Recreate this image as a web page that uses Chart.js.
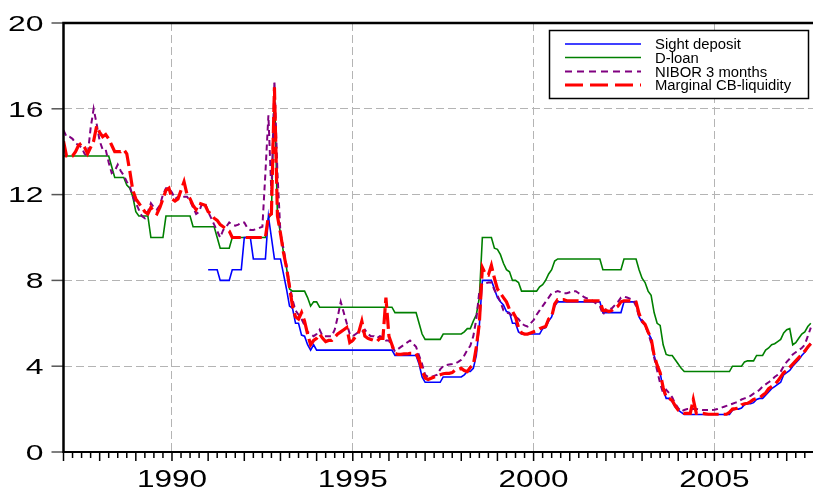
<!DOCTYPE html>
<html>
<head>
<meta charset="utf-8">
<script src="https://cdn.jsdelivr.net/npm/chart.js@4.4.1/dist/chart.umd.min.js"></script>
<style>
  html, body { margin: 0; padding: 0; background: #fff; }
  #c { display: block; }
</style>
</head>
<body>
<canvas id="c" width="813" height="488"></canvas>
<script>
// Norwegian money-market and central bank rates, monthly from January 1987 (percent)
const START_YEAR = 1987;
const seriesNames = ['Sight deposit', 'D-loan', 'NIBOR 3 months', 'Marginal CB-liquidity'];
const yTicks = [0, 4, 8, 12, 16, 20];
const xTicks = [1990, 1995, 2000, 2005];

const sightDeposit = [
  null,null,null,null,null,null,null,null,null,null,null,null,          // 1987
  null,null,null,null,null,null,null,null,null,null,null,null,          // 1988
  null,null,null,null,null,null,null,null,null,null,null,null,          // 1989
  null,null,null,null,null,null,null,null,null,null,null,null,          // 1990
  8.5,8.5,8.5,8.5,8.0,8.0,8.0,8.0,8.5,8.5,8.5,8.5,                      // 1991
  10,10,10,9,9,9,9,9,11,10,9,9,                                         // 1992
  9.0,8.3,7.6,6.8,6.7,6.0,6.0,5.45,5.4,5.0,4.75,5.0,                    // 1993
  4.75,4.75,4.75,4.75,4.75,4.75,4.75,4.75,4.75,4.75,4.75,4.75,          // 1994
  4.75,4.75,4.75,4.75,4.75,4.75,4.75,4.75,4.75,4.75,4.75,4.75,          // 1995
  4.75,4.75,4.5,4.5,4.5,4.5,4.5,4.5,4.5,4.5,4.1,3.5,                    // 1996
  3.25,3.25,3.25,3.25,3.25,3.25,3.5,3.5,3.5,3.5,3.5,3.5,                // 1997
  3.5,3.6,3.75,3.75,3.9,4.5,5.9,8.0,8.0,8.0,8.0,7.6,                    // 1998
  7.2,7.0,6.85,6.55,6.5,6.0,6.0,5.6,5.5,5.5,5.5,5.5,                    // 1999
  5.5,5.5,5.5,5.75,5.8,6.1,6.3,6.8,7.0,7.0,7.0,7.0,                     // 2000
  7,7,7,7,7,7,7,7,7,7,7,6.5,                                            // 2001
  6.5,6.5,6.5,6.5,6.5,6.5,7.0,7.0,7.0,7.0,7.0,6.3,                      // 2002
  6.05,5.9,5.55,5.3,4.5,4.0,3.7,2.9,2.5,2.5,2.35,2.1,                   // 2003
  1.95,1.85,1.75,1.75,1.75,1.75,1.75,1.75,1.75,1.75,1.75,1.75,          // 2004
  1.75,1.75,1.75,1.75,1.75,1.75,1.95,2.0,2.0,2.05,2.2,2.25,             // 2005
  2.25,2.3,2.45,2.5,2.5,2.65,2.8,2.95,3.05,3.15,3.25,3.6,               // 2006
  3.7,3.8,4.0,4.15,4.3,4.5,4.65,4.85,5.05                               // 2007
];

const dLoan = [
  13.8,13.8,13.8,13.8,13.8,13.8,13.8,13.8,13.8,13.8,13.8,13.8,          // 1987
  13.8,13.8,13.8,13.8,13.3,12.8,12.8,12.8,12.8,12.45,12.3,11.9,         // 1988
  11.2,11.0,11.0,11.0,11.0,10.0,10.0,10.0,10.0,10.0,11.0,11.0,          // 1989
  11,11,11,11,11,11,11,10.5,10.5,10.5,10.5,10.5,                        // 1990
  10.5,10.5,10.5,10.0,9.5,9.5,9.5,9.5,10,10,10,10,                      // 1991
  10,10,10,10,10,10,10,10,10.9,11.1,17.0,11.0,                          // 1992
  10.2,9.3,8.6,7.6,7.5,7.5,7.5,7.5,7.5,7.2,6.8,7.0,                     // 1993
  7.0,6.75,6.75,6.75,6.75,6.75,6.75,6.75,6.75,6.75,6.75,6.75,           // 1994
  6.75,6.75,6.75,6.75,6.75,6.75,6.75,6.75,6.75,6.75,6.75,6.75,          // 1995
  6.75,6.75,6.5,6.5,6.5,6.5,6.5,6.5,6.5,6.5,6.0,5.5,                    // 1996
  5.25,5.25,5.25,5.25,5.25,5.25,5.5,5.5,5.5,5.5,5.5,5.5,                // 1997
  5.5,5.6,5.75,5.75,6.1,6.4,7.2,10.0,10.0,10.0,10.0,9.5,                // 1998
  9.45,9.2,8.8,8.5,8.4,8.0,8.0,7.9,7.5,7.5,7.5,7.5,                     // 1999
  7.5,7.5,7.7,7.8,8.0,8.3,8.5,8.9,9.0,9.0,9.0,9.0,                      // 2000
  9,9,9,9,9,9,9,9,9,9,9,8.5,                                            // 2001
  8.5,8.5,8.5,8.5,8.5,8.5,9.0,9.0,9.0,9.0,9.0,8.5,                      // 2002
  8.1,7.9,7.5,7.3,6.5,6.0,5.9,5.0,4.55,4.5,4.5,4.3,                     // 2003
  4.1,3.9,3.75,3.75,3.75,3.75,3.75,3.75,3.75,3.75,3.75,3.75,            // 2004
  3.75,3.75,3.75,3.75,3.75,3.75,4.0,4.0,4.0,4.0,4.2,4.25,               // 2005
  4.25,4.25,4.5,4.5,4.5,4.75,4.85,5.0,5.05,5.15,5.25,5.55,              // 2006
  5.7,5.75,5.0,5.1,5.3,5.5,5.6,5.85,6.0                                 // 2007
];

const nibor3m = [
  15.0,14.7,14.7,14.6,14.4,14.3,14.2,13.9,13.8,15.1,16.0,15.3,          // 1987
  14.5,14.1,14.1,13.5,13.0,13.1,13.4,13.1,12.9,12.6,12.4,11.9,          // 1988
  11.6,11.3,11.0,10.9,11.2,11.6,11.4,11.3,11.5,12.0,12.3,12.3,          // 1989
  12.1,11.8,11.9,12.0,11.9,11.9,11.7,11.4,11.1,11.2,11.6,11.6,          // 1990
  11.2,10.9,10.6,10.3,10.0,10.35,10.5,10.7,10.6,10.55,10.6,10.7,        // 1991
  10.7,10.45,10.35,10.35,10.4,10.45,10.5,13.0,15.7,12.0,17.3,13.0,      // 1992
  10.2,9.5,8.7,7.8,7.1,6.6,6.4,6.2,5.9,5.6,5.5,5.4,                     // 1993
  5.5,5.7,5.4,5.4,5.4,5.4,5.7,6.3,7.0,6.5,6.0,5.5,                      // 1994
  5.4,5.5,5.6,5.6,5.7,5.5,5.4,5.4,5.3,5.4,5.35,5.2,                     // 1995
  5.2,4.9,4.7,4.8,4.9,5.0,5.1,5.2,5.05,4.9,4.5,4.1,                     // 1996
  3.6,3.5,3.5,3.55,3.6,3.85,4.0,4.05,4.08,4.1,4.13,4.2,                 // 1997
  4.3,4.5,4.75,4.95,5.4,6.2,7.5,7.85,7.86,7.9,7.9,7.55,                 // 1998
  7.3,7.0,6.6,6.5,6.45,6.35,6.3,6.2,6.0,5.9,5.85,6.0,                   // 1999
  6.15,6.4,6.6,6.8,7.0,7.2,7.4,7.45,7.5,7.45,7.4,7.4,                   // 2000
  7.45,7.5,7.5,7.4,7.3,7.2,7.15,7.1,7.0,6.9,6.8,6.4,                    // 2001
  6.65,6.65,6.7,6.85,7.0,7.2,7.25,7.2,7.15,7.1,6.8,6.3,                 // 2002
  6.15,5.9,5.55,5.1,4.4,3.8,3.2,2.75,2.9,2.75,2.55,2.25,                // 2003
  2.05,1.88,1.96,2.0,2.0,2.0,2.0,1.98,1.96,1.96,1.96,1.96,              // 2004
  1.97,2.0,2.04,2.1,2.15,2.2,2.25,2.3,2.35,2.45,2.5,2.55,               // 2005
  2.62,2.72,2.8,2.9,3.05,3.15,3.25,3.35,3.5,3.6,3.75,4.0,               // 2006
  4.2,4.35,4.55,4.65,4.75,4.85,5.0,5.4,5.8                              // 2007
];

const marginalCB = [
  14.5,13.8,13.8,13.8,14.0,14.3,14.4,14.2,13.9,14.2,14.5,15.2,          // 1987
  14.9,14.7,14.8,14.6,14.3,14.0,14.0,14.0,14.1,13.9,13.1,12.2,          // 1988
  11.8,11.6,11.4,11.2,11.1,11.4,11.2,11.1,11.4,11.8,12.2,12.3,          // 1989
  11.8,11.7,11.8,12.2,12.6,12.0,11.8,11.5,11.3,11.6,11.55,11.5,         // 1990
  11.2,11.1,10.9,10.8,10.6,10.5,10.4,10.3,10.0,10.0,10.0,10.0,          // 1991
  10,10,10,10,10,10,10,10,11.0,11.1,17.0,11.0,                          // 1992
  10.2,9.3,8.6,7.7,6.8,6.3,6.2,6.5,6.1,5.5,5.0,5.2,                     // 1993
  5.3,5.5,5.3,5.15,5.2,5.2,5.35,5.5,5.6,5.7,5.8,5.1,                    // 1994
  5.2,5.4,5.6,6.1,5.4,5.3,5.25,5.2,5.15,5.3,5.3,7.2,                    // 1995
  5.4,5.0,4.6,4.55,4.55,4.57,4.57,4.6,4.6,4.6,4.3,3.8,                  // 1996
  3.45,3.38,3.44,3.5,3.55,3.6,3.65,3.67,3.67,3.7,3.82,3.85,             // 1997
  3.9,3.8,3.75,3.95,4.05,4.9,6.0,8.6,8.3,8.25,8.7,8.1,                  // 1998
  7.6,7.4,7.2,7.0,6.65,6.55,6.3,5.8,5.55,5.5,5.5,5.55,                  // 1999
  5.6,5.65,5.75,5.8,5.85,6.2,6.3,6.9,7.1,7.1,7.1,7.05,                  // 2000
  7.05,7.05,7.05,7.05,7.05,7.05,7.05,7.05,7.05,7.05,7.05,6.6,           // 2001
  6.6,6.55,6.6,6.7,6.8,7.0,7.05,7.05,7.05,7.05,7.0,6.45,                // 2002
  6.1,5.95,5.6,5.3,4.5,4.05,3.7,3.0,2.55,2.5,2.4,2.15,                  // 2003
  1.95,1.85,1.8,1.8,1.8,2.45,1.8,1.8,1.8,1.78,1.76,1.76,                // 2004
  1.76,1.76,1.76,1.76,1.76,1.85,2.0,2.02,2.05,2.2,2.25,2.27,            // 2005
  2.35,2.45,2.5,2.52,2.65,2.75,2.95,3.05,3.15,3.3,3.5,3.7,              // 2006
  3.8,3.95,4.1,4.25,4.4,4.55,4.7,4.9,5.05                               // 2007
];

const FONT = '"Liberation Sans", Arial, Helvetica, sans-serif';
const GRID = '#b4b4b4';

function toPoints(values) {
  return values.map((v, i) => ({ x: START_YEAR + i / 12, y: v }));
}

// stretched text (the axis and legend lettering is set wide)
function wideText(ctx, text, x, y, size, sx, align) {
  ctx.save();
  ctx.font = size + 'px ' + FONT;
  ctx.translate(x, y);
  ctx.scale(sx, 1);
  ctx.textAlign = align;
  ctx.textBaseline = 'alphabetic';
  ctx.fillStyle = '#000';
  ctx.fillText(text, 0, 0);
  ctx.restore();
}

const frame = {
  id: 'frame',
  afterDraw(chart) {
    const { ctx, chartArea: a, scales: { x, y } } = chart;
    ctx.save();

    // quarterly and yearly tick marks under the time axis
    ctx.strokeStyle = '#000';
    ctx.lineWidth = 1.5;
    for (let q = 0; ; q++) {
      const v = START_YEAR + q / 4;
      if (v > x.max) break;
      const px = x.getPixelForValue(v);
      const len = (q % 4 === 0) ? 9 : 6;
      ctx.beginPath();
      ctx.moveTo(px, a.bottom);
      ctx.lineTo(px, a.bottom + len);
      ctx.stroke();
    }

    // value-axis tick marks
    ctx.strokeStyle = '#555';
    ctx.lineWidth = 1.5;
    yTicks.forEach(v => {
      const py = y.getPixelForValue(v);
      ctx.beginPath();
      ctx.moveTo(a.left - 12, py);
      ctx.lineTo(a.left, py);
      ctx.stroke();
    });

    // frame lines
    ctx.strokeStyle = '#000';
    ctx.lineWidth = 2.5;
    ctx.beginPath();
    ctx.moveTo(a.left, a.bottom + 1);
    ctx.lineTo(a.left, a.top);
    ctx.lineTo(a.right, a.top);
    ctx.stroke();
    ctx.lineWidth = 2;
    ctx.beginPath();
    ctx.moveTo(a.left, a.bottom);
    ctx.lineTo(a.right, a.bottom);
    ctx.stroke();

    // tick labels
    yTicks.forEach(v => {
      const py = y.getPixelForValue(v);
      wideText(ctx, String(v), 43.5, py + 7.8, 22, 1.45, 'right');
    });
    xTicks.forEach(v => {
      const px = x.getPixelForValue(v);
      wideText(ctx, String(v), px, 487, 23, 1.37, 'center');
    });

    // legend box
    const bx = 549.5, by = 30.5, bw = 259, bh = 68;
    ctx.fillStyle = '#fff';
    ctx.fillRect(bx, by, bw, bh);
    ctx.strokeStyle = '#000';
    ctx.lineWidth = 1.5;
    ctx.strokeRect(bx, by, bw, bh);
    const rows = [44, 57.5, 71.5, 85];
    chart.data.datasets.forEach((ds, i) => {
      const ry = rows[i];
      ctx.save();
      ctx.strokeStyle = ds.borderColor;
      ctx.lineWidth = ds.borderWidth;
      ctx.setLineDash(ds.legendDash || []);
      ctx.beginPath();
      ctx.moveTo(565, ry);
      ctx.lineTo(641, ry);
      ctx.stroke();
      ctx.restore();
      wideText(ctx, ds.label, 655, ry + 5, 14, 1.06, 'left');
    });

    ctx.restore();
  }
};

new Chart(document.getElementById('c'), {
  type: 'line',
  data: {
    datasets: [
      { label: seriesNames[0], data: toPoints(sightDeposit), borderColor: '#0000ff',
        borderWidth: 1.6, order: 2 },
      { label: seriesNames[1], data: toPoints(dLoan), borderColor: '#008000',
        borderWidth: 1.6, order: 3 },
      { label: seriesNames[2], data: toPoints(nibor3m), borderColor: '#800080',
        borderWidth: 2, borderDash: [6, 4], legendDash: [7, 5], order: 1 },
      { label: seriesNames[3], data: toPoints(marginalCB), borderColor: '#ff0000',
        borderWidth: 3.2, borderDash: [16, 5], legendDash: [18, 7], order: 0 }
    ]
  },
  options: {
    responsive: false,
    animation: false,
    devicePixelRatio: 1,
    elements: { point: { radius: 0 }, line: { tension: 0, fill: false } },
    layout: { padding: { top: 23, left: 0, right: 0, bottom: 0 } },
    plugins: { legend: { display: false }, tooltip: { enabled: false } },
    scales: {
      x: {
        type: 'linear',
        min: START_YEAR,
        max: 2007.727,
        afterBuildTicks(s) { s.ticks = xTicks.map(v => ({ value: v })); },
        afterFit(s) { s.height = 36; },
        ticks: { display: false },
        grid: { color: GRID, lineWidth: 1, drawTicks: false },
        border: { display: false, dash: [8, 4] }
      },
      y: {
        min: 0,
        max: 20,
        afterBuildTicks(s) { s.ticks = yTicks.map(v => ({ value: v })); },
        afterFit(s) { s.width = 63.5; },
        ticks: { display: false },
        grid: {
          color: c => (c.tick && (c.tick.value === 0 || c.tick.value === 20)) ? 'rgba(0,0,0,0)' : GRID,
          lineWidth: 1,
          drawTicks: false
        },
        border: { display: false, dash: [8, 4] }
      }
    }
  },
  plugins: [frame]
});
</script>
</body>
</html>
